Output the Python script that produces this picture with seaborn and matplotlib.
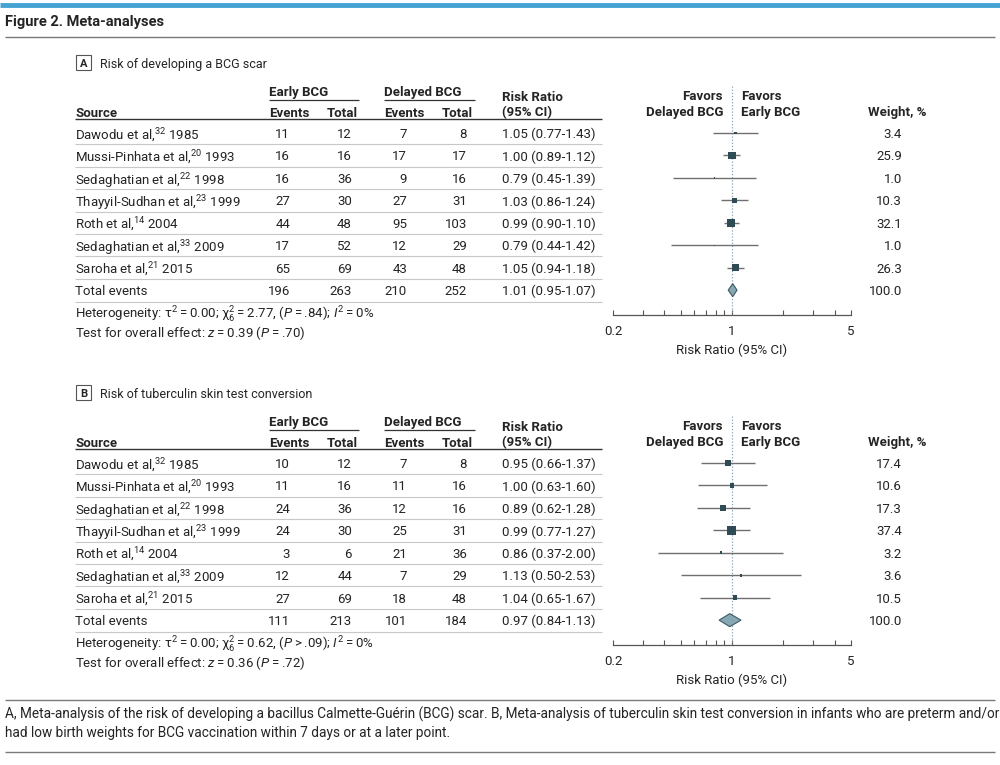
import numpy as np
import pandas as pd
import matplotlib
matplotlib.use("Agg")
import matplotlib.pyplot as plt
import seaborn as sns
from matplotlib import font_manager
from matplotlib.patches import Rectangle
from matplotlib.ticker import FixedLocator, FixedFormatter, NullFormatter

# ---------------- data ----------------
authors = ["Dawodu et al", "Mussi-Pinhata et al", "Sedaghatian et al",
           "Thayyil-Sudhan et al", "Roth et al", "Sedaghatian et al", "Saroha et al"]
refs = [32, 20, 22, 23, 14, 33, 21]
years = [1985, 1993, 1998, 1999, 2004, 2009, 2015]

# Panel A: BCG scar
a_early_events = [11, 16, 16, 27, 44, 17, 65]
a_early_total = [12, 16, 36, 30, 48, 52, 69]
a_delayed_events = [7, 17, 9, 27, 95, 12, 43]
a_delayed_total = [8, 17, 16, 31, 103, 29, 48]
a_rr = [1.05, 1.00, 0.79, 1.03, 0.99, 0.79, 1.05]
a_lo = [0.77, 0.89, 0.45, 0.86, 0.90, 0.44, 0.94]
a_hi = [1.43, 1.12, 1.39, 1.24, 1.10, 1.42, 1.18]
a_weight = [3.4, 25.9, 1.0, 10.3, 32.1, 1.0, 26.3]
a_totals = [196, 263, 210, 252]
a_pooled = [1.01, 0.95, 1.07]

# Panel B: tuberculin skin test conversion
b_early_events = [10, 11, 24, 24, 3, 12, 27]
b_early_total = [12, 16, 36, 30, 6, 44, 69]
b_delayed_events = [7, 11, 12, 25, 21, 7, 18]
b_delayed_total = [8, 16, 16, 31, 36, 29, 48]
b_rr = [0.95, 1.00, 0.89, 0.99, 0.86, 1.13, 1.04]
b_lo = [0.66, 0.63, 0.62, 0.77, 0.37, 0.50, 0.65]
b_hi = [1.37, 1.60, 1.28, 1.27, 2.00, 2.53, 1.67]
b_weight = [17.4, 10.6, 17.3, 37.4, 3.2, 3.6, 10.5]
b_totals = [111, 213, 101, 184]
b_pooled = [0.97, 0.84, 1.13]

x_ticks_major = [0.2, 1, 5]
x_ticks_minor = [0.3, 0.4, 0.5, 0.6, 0.7, 0.8, 0.9, 2, 3, 4]

# ---------------- style ----------------
sns.set_theme(style="white")
names = {f.name for f in font_manager.fontManager.ttflist}
BASE = "Roboto" if "Roboto" in names else "DejaVu Sans"
plt.rcParams["font.family"] = [BASE, "DejaVu Sans"]
plt.rcParams["mathtext.fontset"] = "custom"
plt.rcParams["mathtext.rm"] = BASE
plt.rcParams["mathtext.it"] = BASE + ":italic"
plt.rcParams["mathtext.bf"] = BASE + ":bold"

TXT = "#242424"
DARK = "#333333"
SEP = "#c8c8c8"
SQ = "#2f4b56"
CI = "#707070"
DIA = "#88a7b4"
DIAE = "#3d5964"
FS = 9.5

W, H = 1000, 765
fig = plt.figure(figsize=(10, 7.65), dpi=100)
bg = fig.add_axes([0, 0, 1, 1])
bg.set_xlim(0, W)
bg.set_ylim(H, 0)
bg.axis("off")


def T(x, y, s, ha="left", size=FS, weight="normal", color=TXT):
    bg.text(x, y, s, ha=ha, va="center_baseline", fontsize=size,
            fontweight=weight, color=color)


def hline(x0, x1, y, color, lw):
    bg.plot([x0, x1], [y, y], color=color, lw=lw, solid_capstyle="butt")


# ---------------- page frame ----------------
hline(0, W, 5, "#45a3d4", 3.5)
T(5, 20, "Figure 2. Meta-analyses", size=10.5, weight="bold")
hline(5, 995, 37, "#7a7a7a", 1.0)
hline(5, 995, 700, "#7a7a7a", 1.0)
T(5, 713, "A, Meta-analysis of the risk of developing a bacillus Calmette-Guérin (BCG) scar. "
          "B, Meta-analysis of tuberculin skin test conversion in infants who are preterm and/or",
  size=9.8)
T(5, 731, "had low birth weights for BCG vaccination within 7 days or at a later point.",
  size=9.8)
hline(5, 995, 752, "#7a7a7a", 1.0)


def panel(yo, label, title, ee, et, de, dt, rr, lo, hi, wt, totals, pooled, het, test):
    # panel label
    bg.add_patch(Rectangle((76, yo + 55), 15, 15, fill=False, edgecolor="#555555", lw=0.8))
    T(83.5, yo + 62.5, label, ha="center", size=8, weight="bold")
    T(100, yo + 62.5, title, size=9)

    # headers
    T(269, yo + 91, "Early BCG", weight="bold")
    hline(269, 359, yo + 100, DARK, 0.9)
    T(384, yo + 91, "Delayed BCG", weight="bold")
    hline(384, 475, yo + 100, DARK, 0.9)
    T(75, yo + 112, "Source", weight="bold")
    T(269, yo + 112, "Events", weight="bold")
    T(358, yo + 112, "Total", ha="right", weight="bold")
    T(384, yo + 112, "Events", weight="bold")
    T(473, yo + 112, "Total", ha="right", weight="bold")
    T(502, yo + 96, "Risk Ratio", weight="bold")
    T(502, yo + 111, "(95% CI)", weight="bold")
    T(723, yo + 95, "Favors", ha="right", weight="bold")
    T(723, yo + 111, "Delayed BCG", ha="right", weight="bold")
    T(741, yo + 95, "Favors", weight="bold")
    T(741, yo + 111, "Early BCG", weight="bold")
    T(868, yo + 111, "Weight, %", weight="bold")
    hline(75, 602, yo + 119, DARK, 1.0)

    n = len(rr)
    ry = [yo + 133 + i * 22.45 for i in range(n + 1)]
    for i in range(n):
        T(75, ry[i], f"{authors[i]},$^{{{refs[i]}}}$ {years[i]}")
        T(290, ry[i], f"{ee[i]}", ha="right")
        T(352, ry[i], f"{et[i]}", ha="right")
        T(407, ry[i], f"{de[i]}", ha="right")
        T(467, ry[i], f"{dt[i]}", ha="right")
        T(502, ry[i], f"{rr[i]:.2f} ({lo[i]:.2f}-{hi[i]:.2f})")
        T(902, ry[i], f"{wt[i]:.1f}", ha="right")
        hline(75, 602, ry[i] + 11.2, SEP, 0.8)
    T(75, ry[n], "Total events")
    T(290, ry[n], f"{totals[0]}", ha="right")
    T(352, ry[n], f"{totals[1]}", ha="right")
    T(407, ry[n], f"{totals[2]}", ha="right")
    T(467, ry[n], f"{totals[3]}", ha="right")
    T(502, ry[n], f"{pooled[0]:.2f} ({pooled[1]:.2f}-{pooled[2]:.2f})")
    T(902, ry[n], "100.0", ha="right")
    hline(75, 602, ry[n] + 11.5, SEP, 0.8)

    T(75, yo + 312, het)
    T(75, yo + 331, test)

    # forest axes, y in page pixels
    top, bot = yo + 84, yo + 315
    fa = fig.add_axes([613 / W, 1 - bot / H, (851 - 613) / W, (bot - top) / H])
    fa.patch.set_alpha(0)
    fa.set_xscale("log")
    fa.set_xlim(0.2, 5)
    fa.set_ylim(bot, top)
    fa.vlines(1, top + 2, bot, colors="#8aa3b2", linestyles=(0, (1, 1.5)), lw=0.9, zorder=1)
    fa.hlines(ry[:n], lo, hi, colors=CI, lw=1.0, zorder=2)
    df = pd.DataFrame({"rr": rr, "y": ry[:n], "w": wt})
    sns.scatterplot(data=df, x="rr", y="y", size="w", sizes=(0, 44), size_norm=(0, 40),
                    marker="s", color=SQ, linewidth=0, legend=False, ax=fa, zorder=3)
    yd = ry[n]
    fa.fill([pooled[1], pooled[0], pooled[2], pooled[0]], [yd, yd - 6.5, yd, yd + 6.5],
            facecolor=DIA, edgecolor=DIAE, lw=0.8, zorder=3)
    for s in ["top", "left", "right"]:
        fa.spines[s].set_visible(False)
    fa.spines["bottom"].set_color("#555555")
    fa.spines["bottom"].set_linewidth(0.9)
    fa.set_yticks([])
    fa.xaxis.set_major_locator(FixedLocator(x_ticks_major))
    fa.xaxis.set_major_formatter(FixedFormatter([f"{v:g}" for v in x_ticks_major]))
    fa.xaxis.set_minor_locator(FixedLocator(x_ticks_minor))
    fa.xaxis.set_minor_formatter(NullFormatter())
    fa.tick_params(axis="x", which="both", direction="in", length=3.5, width=0.8,
                   color="#555555", bottom=True, labelsize=FS, labelcolor=TXT, pad=7.5)
    fa.set_xlabel("Risk Ratio (95% CI)", fontsize=FS, color=TXT, labelpad=4)
    fa.set_ylabel("")
    fa.grid(False)


TS = "\u2009"
panel(0, "A", "Risk of developing a BCG scar",
      a_early_events, a_early_total, a_delayed_events, a_delayed_total,
      a_rr, a_lo, a_hi, a_weight, a_totals, a_pooled,
      "Heterogeneity: τ$^2$" + TS + "=" + TS + "0.00; χ$^2_6$" + TS + "=" + TS + "2.77, ($P$"
      + TS + "=" + TS + ".84); $I^2$" + TS + "=" + TS + "0%",
      "Test for overall effect: $z$" + TS + "=" + TS + "0.39 ($P$" + TS + "=" + TS + ".70)")
panel(330, "B", "Risk of tuberculin skin test conversion",
      b_early_events, b_early_total, b_delayed_events, b_delayed_total,
      b_rr, b_lo, b_hi, b_weight, b_totals, b_pooled,
      "Heterogeneity: τ$^2$" + TS + "=" + TS + "0.00; χ$^2_6$" + TS + "=" + TS + "0.62, ($P$"
      + TS + ">" + TS + ".09); $I^2$" + TS + "=" + TS + "0%",
      "Test for overall effect: $z$" + TS + "=" + TS + "0.36 ($P$" + TS + "=" + TS + ".72)")

fig.savefig("out.png", dpi=100)
